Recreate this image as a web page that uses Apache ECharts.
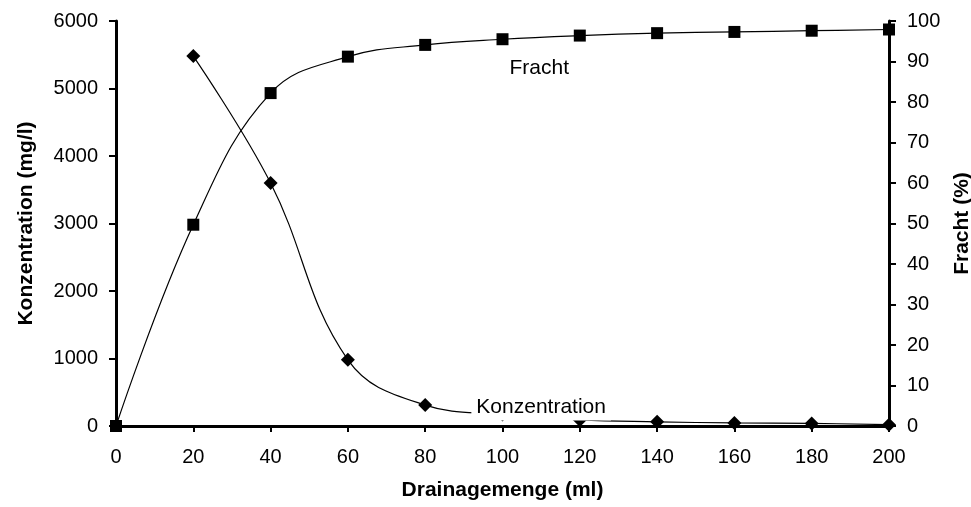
<!DOCTYPE html>
<html>
<head>
<meta charset="utf-8">
<script src="https://cdn.jsdelivr.net/npm/echarts@6/dist/echarts.min.js"></script>
<style>
  html, body { margin: 0; padding: 0; background: #fff; }
  #div_chart { width: 971px; height: 507px; }
</style>
</head>
<body>
<div id="div_chart"></div>
<script>
"use strict";

// data
const drainage_ml = [0, 20, 40, 60, 80, 100, 120, 140, 160, 180, 200];
const konz_x = [20, 40, 60, 80, 100, 120, 140, 160, 180, 200];
const konzentration_mgl = [5480, 3600, 980, 310, 170, 90, 62, 45, 38, 20];
const fracht_pct = [0, 49.7, 82.2, 91.2, 94.1, 95.5, 96.4, 97.0, 97.3, 97.6, 97.9];

const x_ticks = [0, 200, 20];
const y_left_ticks = [0, 6000, 1000];
const y_right_ticks = [0, 100, 10];

// in-plot series labels (data coordinates)
const konz_label = [110, 281];
const fracht_label = [109.5, 88.4];

const font = "Liberation Sans, Arial, sans-serif";

function pairs(xs, ys) {
  return xs.map((x, i) => [x, ys[i]]);
}

const chart = echarts.init(document.getElementById("div_chart"));

const tick_label = { fontSize: 20, color: "#000", fontFamily: font, formatter: (v) => String(v) };
const title_style = { fontSize: 21, fontWeight: "bold", fontFamily: font, color: "#000" };

chart.setOption({
  animation: false,
  textStyle: { fontFamily: font, color: "#000" },
  grid: { left: 116, right: 82, top: 21, bottom: 81, containLabel: false, outerBoundsMode: "none" },
  xAxis: [
    {
      type: "value",
      min: x_ticks[0],
      max: x_ticks[1],
      interval: x_ticks[2],
      name: "Drainagemenge (ml)",
      nameLocation: "middle",
      nameGap: 54,
      nameTextStyle: title_style,
      axisLine: { show: true, onZero: false, lineStyle: { color: "#000", width: 3 } },
      axisTick: { show: true, inside: false, length: 6, lineStyle: { color: "#000", width: 2 } },
      axisLabel: Object.assign({ margin: 21 }, tick_label),
      splitLine: { show: false },
    },
    {
      // thin top frame line
      type: "value",
      position: "top",
      min: x_ticks[0],
      max: x_ticks[1],
      axisLine: { show: true, lineStyle: { color: "#000", width: 1.5 } },
      axisTick: { show: false },
      axisLabel: { show: false },
      splitLine: { show: false },
    },
  ],
  yAxis: [
    {
      type: "value",
      min: y_left_ticks[0],
      max: y_left_ticks[1],
      interval: y_left_ticks[2],
      name: "Konzentration (mg/l)",
      nameLocation: "middle",
      nameRotate: 90,
      nameGap: 79,
      nameTextStyle: title_style,
      axisLine: { show: true, onZero: false, lineStyle: { color: "#000", width: 3 } },
      axisTick: { show: true, inside: false, length: 7, lineStyle: { color: "#000", width: 2 } },
      axisLabel: Object.assign({ margin: 18 }, tick_label),
      splitLine: { show: false },
    },
    {
      type: "value",
      position: "right",
      min: y_right_ticks[0],
      max: y_right_ticks[1],
      interval: y_right_ticks[2],
      name: "Fracht (%)",
      nameLocation: "middle",
      nameRotate: 90,
      nameGap: 61,
      nameTextStyle: title_style,
      axisLine: { show: true, onZero: false, lineStyle: { color: "#000", width: 3 } },
      axisTick: { show: true, inside: false, length: 7, lineStyle: { color: "#000", width: 2 } },
      axisLabel: Object.assign({ margin: 18 }, tick_label),
      splitLine: { show: false },
    },
  ],
  series: [
    {
      name: "Konzentration",
      type: "line",
      yAxisIndex: 0,
      data: pairs(konz_x, konzentration_mgl),
      smooth: 0.4,
      symbol: "diamond",
      symbolSize: 14,
      itemStyle: { color: "#000" },
      lineStyle: { color: "#000", width: 1.2 },
      z: 3,
    },
    {
      name: "Fracht",
      type: "line",
      yAxisIndex: 1,
      data: pairs(drainage_ml, fracht_pct),
      smooth: 0.4,
      symbol: "rect",
      symbolSize: 12,
      itemStyle: { color: "#000" },
      lineStyle: { color: "#000", width: 1.2 },
      z: 4,
    },
    {
      name: "label_konz",
      type: "scatter",
      yAxisIndex: 0,
      data: [konz_label],
      symbolSize: 0,
      itemStyle: { color: "#fff", opacity: 1 },
      z: 6,
      silent: true,
      label: {
        show: true,
        position: "inside",
        formatter: "Konzentration",
        fontSize: 21,
        color: "#000",
        opacity: 1,
        fontFamily: font,
        backgroundColor: "#fff",
        padding: [3, 5, 3, 5],
      },
    },
    {
      name: "label_fracht",
      type: "scatter",
      yAxisIndex: 1,
      data: [fracht_label],
      symbolSize: 0,
      itemStyle: { color: "#fff", opacity: 1 },
      z: 6,
      silent: true,
      label: {
        show: true,
        position: "inside",
        formatter: "Fracht",
        fontSize: 21,
        color: "#000",
        opacity: 1,
        fontFamily: font,
      },
    },
  ],
});
</script>
</body>
</html>
